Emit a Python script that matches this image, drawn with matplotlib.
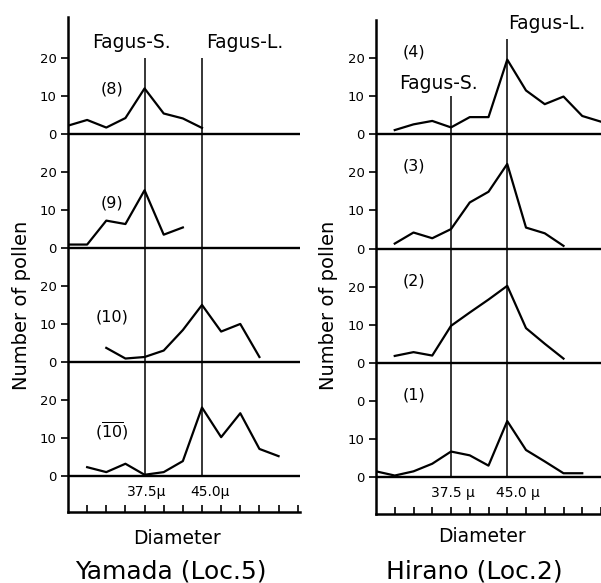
import matplotlib
matplotlib.use('Agg')
import matplotlib.pyplot as plt

# diameters (micron) and pollen counts
# Yamada (Loc.5)
y8_x = [27.5, 30, 32.5, 35, 37.5, 40, 42.5, 45]
y8 = [2.2, 3.7, 1.7, 4.2, 12.0, 5.4, 4.1, 1.6]
y9_x = [27.5, 30, 32.5, 35, 37.5, 40, 42.5]
y9 = [0.9, 0.9, 7.2, 6.3, 15.2, 3.5, 5.4]
y10_x = [32.5, 35, 37.5, 40, 42.5, 45, 47.5, 50, 52.5]
y10 = [3.7, 0.9, 1.3, 3.0, 8.4, 15.0, 8.0, 10.0, 1.3]
y10b_x = [30, 32.5, 35, 37.5, 40, 42.5, 45, 47.5, 50, 52.5, 55]
y10b = [2.3, 1.0, 3.2, 0.3, 1.0, 3.9, 18.0, 10.2, 16.5, 7.1, 5.2]

# Hirano (Loc.2)
h4_x = [30, 32.5, 35, 37.5, 40, 42.5, 45, 47.5, 50, 52.5, 55, 57.5]
h4 = [1.1, 2.6, 3.5, 1.8, 4.5, 4.5, 19.6, 11.5, 7.9, 9.9, 4.8, 3.3]
h3_x = [30, 32.5, 35, 37.5, 40, 42.5, 45, 47.5, 50, 52.5]
h3 = [1.3, 4.2, 2.7, 5.1, 12.1, 14.9, 22.2, 5.5, 4.0, 0.7]
h2_x = [30, 32.5, 35, 37.5, 40, 42.5, 45, 47.5, 50, 52.5]
h2 = [1.8, 2.8, 1.9, 9.7, 13.2, 16.6, 20.2, 9.1, 5.0, 1.1]
h1_x = [27.5, 30, 32.5, 35, 37.5, 40, 42.5, 45, 47.5, 50, 52.5, 55]
h1 = [1.5, 0.4, 1.5, 3.5, 6.7, 5.7, 3.0, 14.7, 7.1, 4.1, 1.0, 1.0]

x_ticks = [30, 32.5, 35, 37.5, 40, 42.5, 45, 47.5, 50, 52.5, 55, 57.5]
fagus_s = 37.5
fagus_l = 45.0
step = 30  # vertical offset between stacked panels

plt.rcParams['font.family'] = 'DejaVu Sans'
fig = plt.figure(figsize=(6.01, 5.83), dpi=100)

axL = fig.add_axes([68/601, 71/583, 232/601, 495/583])
axR = fig.add_axes([376/601, 69/583, 225/601, 494/583])


def setup(ax, ylim, xlim, lab20_bottom='20'):
    ax.set_xlim(*xlim)
    ax.set_ylim(*ylim)
    for s in ['top', 'right']:
        ax.spines[s].set_visible(False)
    ax.spines['left'].set_linewidth(1.8)
    ax.spines['bottom'].set_linewidth(1.8)
    ticks = []
    labels = []
    for k in range(4):
        ticks += [k*step, k*step + 10, k*step + 20]
        labels += ['0', '10', lab20_bottom if k == 0 else '20']
    ax.set_yticks(ticks)
    ax.set_yticklabels(labels, fontsize=9.5)
    ax.tick_params(axis='y', direction='out', length=5, width=1.2, pad=3)
    ax.set_xticks(x_ticks)
    ax.set_xticklabels([])
    ax.tick_params(axis='x', direction='in', length=5, width=1.2)
    for k in range(4):
        ax.axhline(k*step, color='black', lw=1.7)


setup(axL, (-9.5, 120.8), (27.5, 57.8))
setup(axR, (-9.7, 120.0), (27.5, 56.8), lab20_bottom='0')

# Yamada curves
for k, (xs, ys) in enumerate([(y10b_x, y10b), (y10_x, y10), (y9_x, y9), (y8_x, y8)]):
    axL.plot(xs, [v + k*step for v in ys], color='black', lw=1.6)
axL.vlines([fagus_s, fagus_l], 0, 3*step + 20, color='black', lw=1.1)

# Hirano curves
for k, (xs, ys) in enumerate([(h1_x, h1), (h2_x, h2), (h3_x, h3), (h4_x, h4)]):
    axR.plot(xs, [v + k*step for v in ys], color='black', lw=1.6)
axR.vlines(fagus_s, 0, 3*step + 10, color='black', lw=1.1)
axR.vlines(fagus_l, 0, 3*step + 25, color='black', lw=1.1)

# panel labels
panel_L = ['($\\overline{\\mathrm{10}}$)', '(10)', '(9)', '(8)']
for k, t in enumerate(panel_L):
    axL.text(33.2, k*step + 11.8, t, fontsize=11.5, ha='center', va='center')
panel_R = ['(1)', '(2)', '(3)', '(4)']
for k, t in enumerate(panel_R):
    axR.text(32.5, k*step + 21.6, t, fontsize=11.5, ha='center', va='center')

axL.text(35.8, 3*step + 24.2, 'Fagus-S.', fontsize=13.5, ha='center', va='center')
axL.text(50.6, 3*step + 24.2, 'Fagus-L.', fontsize=13.5, ha='center', va='center')
axR.text(35.8, 3*step + 13.4, 'Fagus-S.', fontsize=13.5, ha='center', va='center')
axR.text(50.2, 3*step + 29.2, 'Fagus-L.', fontsize=13.5, ha='center', va='center',
         clip_on=False)

axL.text(37.8, -4.2, '37.5μ', fontsize=10, ha='center', va='center')
axL.text(46.0, -4.2, '45.0μ', fontsize=10, ha='center', va='center')
axR.text(37.8, -4.2, '37.5 μ', fontsize=10, ha='center', va='center')
axR.text(46.4, -4.2, '45.0 μ', fontsize=10, ha='center', va='center')

fig.text(22/601, 1 - 305/583, 'Number of pollen', rotation=90, fontsize=14,
         ha='center', va='center')
fig.text(329/601, 1 - 305/583, 'Number of pollen', rotation=90, fontsize=14,
         ha='center', va='center')
fig.text(177/601, 1 - 538/583, 'Diameter', fontsize=13.5, ha='center', va='center')
fig.text(482/601, 1 - 537/583, 'Diameter', fontsize=13.5, ha='center', va='center')
fig.text(171/601, 1 - 572/583, 'Yamada (Loc.5)', fontsize=18, ha='center', va='center')
fig.text(474/601, 1 - 572/583, 'Hirano (Loc.2)', fontsize=18, ha='center', va='center')

fig.savefig('out.png', dpi=100)
